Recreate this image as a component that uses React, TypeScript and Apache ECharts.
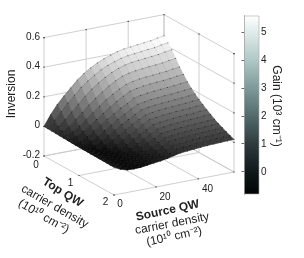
import React, { useEffect, useRef } from "react";
import * as echarts from "echarts";

const FONT = "'Liberation Sans', Arial, sans-serif";
const TEXT = "#222";

const inversionTicks = [-0.2, 0, 0.2, 0.4, 0.6];
const inversionLabels = ["-0.2", "0", "0.2", "0.4", "0.6"];
const sourceTicks = [0, 20, 40];
const topTicks = [0, 1, 2];
const gainTicks = [0, 1, 2, 3, 4, 5];
const sourceMax = 57;
const topMax = 2;
const gainMin = -0.8;
const gainMax = 5.57;

// inversion x 1000; rows: Top QW 0 -> 2, columns: Source QW 0 -> 57
const inversionMilli = [
  [0, 70, 130, 180, 225, 270, 305, 335, 360, 380, 395, 410, 420, 425, 430, 435, 440, 450, 457],
  [-1, 45, 96, 146, 190, 234, 269, 300, 328, 349, 365, 379, 389, 394, 399, 404, 408, 418, 424],
  [-2, 19, 57, 100, 144, 189, 228, 262, 291, 315, 335, 349, 358, 363, 367, 372, 377, 385, 391],
  [-3, 1, 25, 63, 104, 145, 181, 216, 247, 274, 296, 308, 317, 321, 326, 330, 334, 342, 348],
  [-4, -13, 4, 34, 69, 108, 143, 178, 207, 233, 256, 267, 275, 280, 284, 288, 292, 299, 304],
  [-5, -24, -14, 12, 43, 77, 109, 143, 173, 200, 224, 235, 242, 247, 251, 254, 258, 265, 269],
  [-6, -33, -30, -7, 22, 53, 83, 112, 142, 164, 193, 202, 209, 213, 217, 221, 224, 230, 234],
  [-7, -35, -42, -25, 1, 31, 60, 90, 116, 141, 165, 173, 180, 184, 188, 191, 195, 200, 204],
  [-8, -35, -48, -38, -15, 11, 39, 69, 94, 119, 143, 151, 157, 161, 165, 168, 171, 176, 180],
  [-8, -35, -48, -50, -30, -6, 20, 48, 75, 100, 123, 131, 136, 141, 144, 147, 150, 155, 158],
  [-9, -35, -48, -50, -43, -20, 3, 30, 56, 80, 105, 112, 118, 122, 126, 128, 131, 135, 138],
  [-9, -35, -48, -50, -48, -34, -12, 14, 39, 62, 87, 94, 99, 103, 107, 110, 112, 116, 118],
  [-10, -35, -48, -50, -48, -42, -25, -1, 22, 47, 71, 77, 83, 87, 90, 93, 95, 99, 101],
  [-10, -35, -48, -50, -48, -42, -36, -14, 9, 31, 56, 61, 66, 70, 73, 76, 78, 81, 83],
  [-11, -35, -48, -50, -48, -42, -36, -26, -4, 19, 42, 47, 52, 56, 59, 61, 64, 66, 68],
  [-11, -35, -48, -50, -48, -42, -36, -30, -14, 6, 30, 35, 39, 43, 46, 49, 51, 53, 55],
  [-11, -35, -48, -50, -48, -42, -36, -30, -22, -4, 18, 22, 27, 31, 34, 36, 38, 41, 42],
  [-12, -35, -48, -50, -48, -42, -36, -30, -22, -12, 8, 12, 16, 20, 23, 25, 28, 30, 31],
  [-12, -35, -48, -50, -48, -42, -36, -30, -22, -12, -2, 2, 6, 10, 13, 15, 17, 19, 20],
];
const barStops = [
  [0, "#020404"], [0.125, "#10181a"], [0.282, "#2e3c3e"], [0.44, "#536b6c"],
  [0.597, "#7f9a9a"], [0.754, "#b0c8c6"], [0.911, "#e0ecea"], [1, "#ffffff"],
] as [number, string][];

// Projection of the 3D box on the page
const toXY = (src: number, top: number, inv: number): [number, number] => {
  const s = src / sourceMax;
  const t = top / topMax;
  return [44 + 120 * s + 70 * t, 156 - 23 * s + 39 * t - (inv + 0.2) * 148];
};
const nRows = inversionMilli.length;
const nCols = inversionMilli[0].length;
const srcAt = (i: number) => (i / (nCols - 1)) * sourceMax;
const topAt = (j: number) => (j / (nRows - 1)) * topMax;
const vertex = (i: number, j: number) => toXY(srcAt(i), topAt(j), inversionMilli[j][i] / 1000);
const shade = (milli: number) => {
  const f = Math.max(0, Math.min(1, (milli + 55) / 500));
  const g = Math.round(6 + 249 * Math.pow(f, 0.85));
  return `rgb(${g},${g},${g})`;
};

type Seg = [[number, number, number], [number, number, number]];
const wallLines: Seg[] = [];
inversionTicks.forEach((z) => {
  wallLines.push([[0, 0, z], [sourceMax, 0, z]]);
  wallLines.push([[sourceMax, 0, z], [sourceMax, topMax, z]]);
});
sourceTicks.forEach((s) => {
  wallLines.push([[s, 0, -0.2], [s, 0, 0.6]]);
  wallLines.push([[s, 0, -0.2], [s, topMax, -0.2]]);
});
wallLines.push([[sourceMax, 0, -0.2], [sourceMax, 0, 0.6]]);
wallLines.push([[sourceMax, 0, -0.2], [sourceMax, topMax, -0.2]]);
topTicks.forEach((t) => {
  wallLines.push([[0, t, -0.2], [sourceMax, t, -0.2]]);
  wallLines.push([[sourceMax, t, -0.2], [sourceMax, t, 0.6]]);
});

const tickDots: [number, number, number][] = [
  ...inversionTicks.map((z) => [0, 0, z] as [number, number, number]),
  ...inversionTicks.map((z) => [sourceMax, topMax, z] as [number, number, number]),
  ...sourceTicks.map((s) => [s, topMax, -0.2] as [number, number, number]),
  ...sourceTicks.map((s) => [s, 0, 0.6] as [number, number, number]),
  ...topTicks.map((t) => [0, t, -0.2] as [number, number, number]),
  ...topTicks.map((t) => [sourceMax, t, 0.6] as [number, number, number]),
];

const cells: [number, number][] = [];
for (let i = nCols - 2; i >= 0; i--) for (let j = 0; j < nRows - 1; j++) cells.push([i, j]);
const verts: [number, number][] = [];
for (let i = 0; i < nCols; i++) for (let j = 0; j < nRows; j++) verts.push([i, j]);

const txt = (text: string, x: number, y: number, o: any = {}) => ({
  type: "text",
  x,
  y,
  rotation: o.rotation ?? 0,
  silent: true,
  style: {
    text,
    fill: TEXT,
    font: `${o.weight ?? "normal"} ${o.size ?? 10}px ${FONT}`,
    align: o.align ?? "center",
    verticalAlign: "middle",
  },
});

const deg = (d: number) => (d * Math.PI) / 180;

export default function App() {
  const ref = useRef<HTMLDivElement>(null);
  useEffect(() => {
    const chart = echarts.init(ref.current!, undefined, { renderer: "svg" });
    chart.setOption({
      animation: false,
      grid: [
        { left: 0, top: 0, width: 304, height: 258 },
        { left: 244.5, top: 16, width: 14.5, height: 178 },
      ],
      xAxis: [
        { gridIndex: 0, type: "value", min: 0, max: 304, show: false },
        { gridIndex: 1, type: "value", min: 0, max: 1, show: false },
      ],
      yAxis: [
        { gridIndex: 0, type: "value", min: 0, max: 258, inverse: true, show: false },
        {
          gridIndex: 1,
          type: "value",
          position: "right",
          min: gainMin,
          max: gainMax,
          splitLine: { show: false },
          axisLine: { show: true, lineStyle: { color: "#999", width: 1 } },
          axisTick: { show: true, inside: true, length: 3, customValues: gainTicks, lineStyle: { color: "#666", width: 1 } },
          axisLabel: { show: true, customValues: gainTicks, margin: 2, color: TEXT, fontFamily: "Liberation Sans", fontSize: 10 },
        },
        {
          gridIndex: 1,
          type: "value",
          position: "left",
          min: gainMin,
          max: gainMax,
          splitLine: { show: false },
          axisLine: { show: true, lineStyle: { color: "#999", width: 1 } },
          axisTick: { show: true, inside: true, length: 3, customValues: gainTicks, lineStyle: { color: "#666", width: 1 } },
          axisLabel: { show: false },
        },
      ],
      series: [
        {
          type: "custom",
          name: "walls",
          silent: true,
          clip: false,
          data: wallLines.map((_, k) => [k]),
          renderItem: (_p: any, api: any) => {
            const [a, b] = wallLines[api.value(0)];
            const p = api.coord(toXY(a[0], a[1], a[2]));
            const q = api.coord(toXY(b[0], b[1], b[2]));
            return {
              type: "line",
              shape: { x1: p[0], y1: p[1], x2: q[0], y2: q[1] },
              style: { stroke: "#c9c9c9", lineWidth: 0.9 },
            };
          },
        },
        {
          type: "custom",
          name: "ticks",
          silent: true,
          clip: false,
          data: tickDots.map((_, k) => [k]),
          renderItem: (_p: any, api: any) => {
            const d = tickDots[api.value(0)];
            const p = api.coord(toXY(d[0], d[1], d[2]));
            return { type: "rect", shape: { x: p[0] - 0.6, y: p[1] - 0.6, width: 1.2, height: 1.2 }, style: { fill: "#444" } };
          },
        },
        {
          type: "custom",
          name: "Inversion surface",
          silent: true,
          clip: false,
          data: cells,
          renderItem: (_p: any, api: any) => {
            const i = api.value(0);
            const j = api.value(1);
            const pts = [vertex(i, j), vertex(i + 1, j), vertex(i + 1, j + 1), vertex(i, j + 1)].map((c) => api.coord(c));
            const m =
              (inversionMilli[j][i] + inversionMilli[j][i + 1] + inversionMilli[j + 1][i] + inversionMilli[j + 1][i + 1]) / 4;
            const col = shade(m);
            return {
              type: "group",
              children: [
                { type: "polygon", shape: { points: pts }, style: { fill: col, stroke: col, lineWidth: 0.6 } },
                { type: "polyline", shape: { points: [pts[3], pts[0], pts[1]] }, style: { fill: "none", stroke: "rgba(0,0,0,0.3)", lineWidth: 0.5 } },
              ],
            };
          },
        },
        {
          type: "custom",
          name: "mesh nodes",
          silent: true,
          clip: false,
          data: verts,
          renderItem: (_p: any, api: any) => {
            const p = api.coord(vertex(api.value(0), api.value(1)));
            return { type: "rect", shape: { x: p[0] - 0.5, y: p[1] - 0.5, width: 1, height: 1 }, style: { fill: "rgba(0,0,0,0.5)" } };
          },
        },
        {
          type: "custom",
          name: "Gain colorbar",
          xAxisIndex: 1,
          yAxisIndex: 1,
          silent: true,
          data: [[0, gainMin, gainMax]],
          renderItem: (_p: any, api: any) => {
            const a = api.coord([0, api.value(2)]);
            const b = api.coord([1, api.value(1)]);
            return {
              type: "rect",
              shape: { x: a[0], y: a[1], width: b[0] - a[0], height: b[1] - a[1] },
              style: {
                fill: new echarts.graphic.LinearGradient(0, 1, 0, 0, barStops.map(([offset, color]) => ({ offset, color }))),
                stroke: "#aaa",
                lineWidth: 0.6,
              },
            };
          },
        },
      ],
      graphic: [
        ...inversionTicks.map((z, k) => {
          const p = toXY(0, 0, z);
          return txt(inversionLabels[k], 40, p[1] - 1.5, { align: "right" });
        }),
        txt("Inversion", 11, 94, { size: 12, rotation: deg(90) }),
        txt("0", 36, 164.5),
        txt("1", 70.5, 182.5),
        txt("2", 105.5, 201),
        txt("0", 120, 203),
        txt("20", 165, 196),
        txt("40", 207.5, 188),
        txt("Top QW", 63, 192, { weight: "bold", size: 12, rotation: deg(-32) }),
        txt("carrier density", 55, 206, { size: 12, rotation: deg(-30) }),
        txt("(10\u00b9\u2070 cm\u207b\u00b2)", 44, 216, { size: 12, rotation: deg(-30) }),
        txt("Source QW", 167.5, 210, { weight: "bold", size: 12, rotation: deg(12) }),
        txt("carrier density", 172, 223, { size: 12, rotation: deg(11) }),
        txt("(10\u00b9\u2070 cm\u207b\u00b2)", 174, 236, { size: 12, rotation: deg(12) }),
        txt("Gain (10\u00b3 cm\u207b\u00b9)", 277, 106, { size: 12, rotation: deg(-90) }),
      ],
    });
    return () => chart.dispose();
  }, []);
  return <div ref={ref} style={{ position: "absolute", left: 0, top: 0, width: 304, height: 258, filter: "blur(0.3px)" }} />;
}
